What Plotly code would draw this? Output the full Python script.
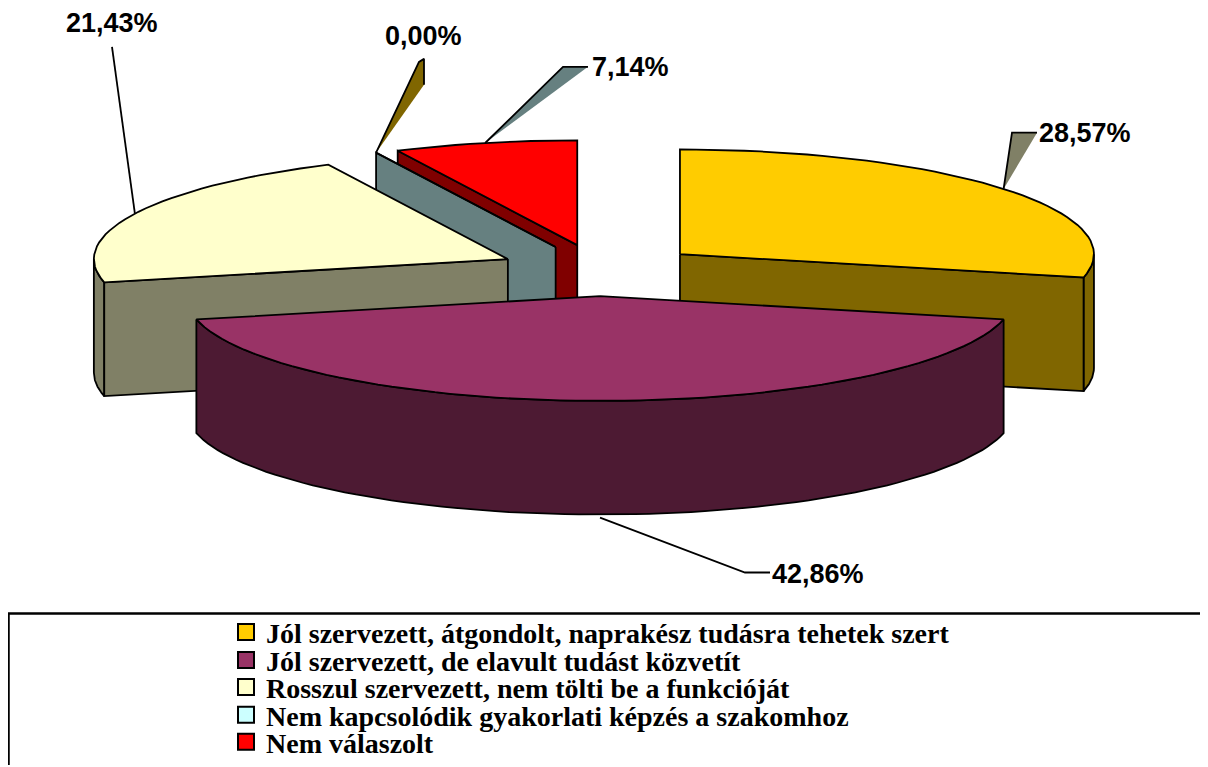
import numpy as np
import plotly.graph_objects as go

# ---------------- data ----------------
categories = [
    "Jól szervezett, átgondolt, naprakész tudásra tehetek szert",
    "Jól szervezett, de elavult tudást közvetít",
    "Rosszul szervezett, nem tölti be a funkcióját",
    "Nem kapcsolódik gyakorlati képzés a szakomhoz",
    "Nem válaszolt",
]
values = [28.57, 42.86, 21.43, 0.00, 7.14]

# ---------------- style ----------------
top_colors = ["#FFCC00", "#993366", "#FFFFCC", "#CCFFFF", "#FF0000"]
side_colors = ["#806600", "#4D1A33", "#808066", "#668080", "#800000"]

W, H = 1208, 767           # page size
OFF = 8                    # page body margin
FW, FH = W - OFF, H - OFF  # figure size
CX, CY = 600, 271          # pie centre (page pixels)
RX, RY = 414, 105          # ellipse radii
DEPTH = 114                # thickness
EXPL = 0.247               # explosion fraction
EDGE_W = 1.8

# label placement (centres, page pixels) and leader elbows
label_pos = [(1085, 133), (818, 575), (112, 23), (423, 36), (630, 67)]
leader_mid = [
    [(1012, 133), (1037, 133)],
    [(745, 574), (770, 574)],
    [(112, 47)],
    [(419, 62), (424, 59), (424, 85)],
    [(563, 67), (588, 67)],
]
leader_fill = ["#808066", None, None, "#806600", "#668080"]

fig = go.Figure()

total = sum(values)
starts = np.concatenate([[0], np.cumsum(values)[:-1]]) / total * 2 * np.pi
ends = np.cumsum(values) / total * 2 * np.pi


def rim(c, th, dz=0.0):
    return c[0] + RX * np.sin(th), c[1] - RY * np.cos(th) + dz


faces = []  # (depth key, sub-order, xs, ys, color)
anchors = []
for i, (a, b) in enumerate(zip(starts, ends)):
    m = (a + b) / 2
    c = (CX + EXPL * RX * np.sin(m), CY - EXPL * RY * np.cos(m))
    # outer (front facing) wall
    lo, hi = max(a, np.pi / 2), min(b, 3 * np.pi / 2)
    if hi > lo + 1e-9:
        th = np.linspace(lo, hi, 80)
        tx, ty = rim(c, th)
        bx, by = rim(c, th[::-1], DEPTH)
        xs = np.concatenate([tx, bx, tx[:1]])
        ys = np.concatenate([ty, by, ty[:1]])
        faces.append((c[1], 0, xs, ys, side_colors[i]))
    # radial walls
    for ang, normal in ((a, a - np.pi / 2), (b, b + np.pi / 2)):
        if np.cos(normal) < -1e-6:
            px, py = rim(c, ang)
            xs = [c[0], px, px, c[0], c[0]]
            ys = [c[1], py, py + DEPTH, c[1] + DEPTH, c[1]]
            faces.append((c[1], 0, xs, ys, side_colors[i]))
    # top face
    th = np.linspace(a, b, max(2, int(80 * (b - a) / np.pi) + 2))
    tx, ty = rim(c, th)
    xs = np.concatenate([[c[0]], tx, [c[0]]])
    ys = np.concatenate([[c[1]], ty, [c[1]]])
    faces.append((c[1], 1, xs, ys, top_colors[i]))
    # label anchor
    if np.cos(m) < -0.9:
        anchors.append(rim(c, m, DEPTH + 3))
    else:
        anchors.append(rim(c, m))

faces.sort(key=lambda f: (f[0], f[1]))
for _, _, xs, ys, col in faces:
    fig.add_trace(go.Scatter(
        x=list(xs), y=list(ys), mode="lines", fill="toself", fillcolor=col,
        line=dict(color="black", width=EDGE_W), hoverinfo="skip", showlegend=False,
    ))

# leader lines
for i, anc in enumerate(anchors):
    pts = [anc] + leader_mid[i]
    xs = [p[0] for p in pts]
    ys = [p[1] for p in pts]
    if leader_fill[i]:
        fig.add_trace(go.Scatter(
            x=xs, y=ys, mode="lines", fill="toself", fillcolor=leader_fill[i],
            line=dict(color="black", width=1.8), hoverinfo="skip", showlegend=False,
        ))
    else:
        fig.add_trace(go.Scatter(
            x=xs, y=ys, mode="lines", line=dict(color="black", width=1.8),
            hoverinfo="skip", showlegend=False,
        ))

# percentage labels
for i, v in enumerate(values):
    fig.add_annotation(
        x=label_pos[i][0], y=label_pos[i][1], xref="x", yref="y",
        text=f"{v:.2f}%".replace(".", ","), showarrow=False,
        font=dict(family="Liberation Sans", size=27, color="black", weight="bold"),
        xanchor="center", yanchor="middle",
    )

# legend (one legend per row so spacing can match)
row_y = [634, 662, 689, 717, 744]
legend_names = ["legend", "legend2", "legend3", "legend4", "legend5"]
for i, name in enumerate(categories):
    fig.add_trace(go.Scatter(
        x=[None], y=[None], mode="markers", name=name,
        marker=dict(symbol="square", size=16, color=top_colors[i],
                    line=dict(color="black", width=2)),
        legend=legend_names[i],
    ))

leg_common = dict(
    xanchor="left", yanchor="middle", bgcolor="rgba(0,0,0,0)", borderwidth=0,
    font=dict(family="Liberation Serif", size=28, color="black", weight="bold"),
    itemclick=False, itemdoubleclick=False,
)
layout_legends = {}
for i, ln in enumerate(legend_names):
    layout_legends[ln] = dict(x=(226 - OFF) / FW, y=1 - (row_y[i] - OFF) / FH, **leg_common)

# legend frame
fig.add_shape(type="rect", xref="x", yref="y", x0=8.5, y0=615, x1=1206, y1=775,
              line=dict(color="black", width=2.5), fillcolor="rgba(0,0,0,0)", layer="below")

fig.update_layout(
    width=FW, height=FH, autosize=False,
    margin=dict(l=0, r=0, t=0, b=0, pad=0),
    paper_bgcolor="white", plot_bgcolor="white",
    xaxis=dict(range=[OFF, W], visible=False, fixedrange=True),
    yaxis=dict(range=[H, OFF], visible=False, fixedrange=True),
    showlegend=True,
    **layout_legends,
)

fig.write_html("out.html")
